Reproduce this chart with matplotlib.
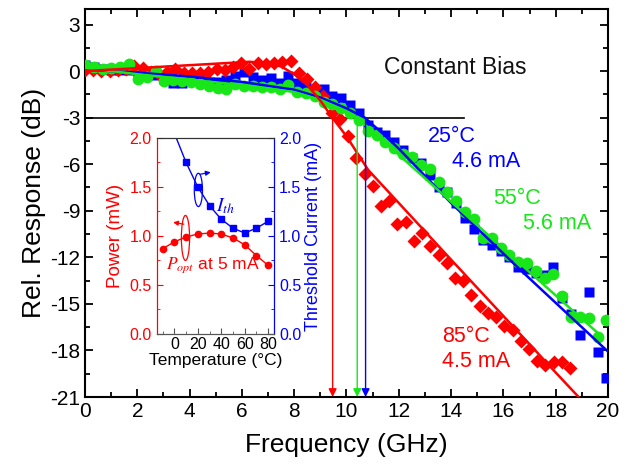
import matplotlib
matplotlib.use('Agg')
import matplotlib.pyplot as plt
from matplotlib.patches import Ellipse
from matplotlib.ticker import MultipleLocator

plt.rcParams['font.family'] = ['Liberation Sans', 'DejaVu Sans']
plt.rcParams['mathtext.fontset'] = 'stix'
plt.rcParams['axes.unicode_minus'] = False

RED = '#ff0000'
BLUE = '#0000ff'
GREEN = '#19e619'

# ---- main chart data ----
freq_bg = [0.00, 0.34, 0.68, 1.01, 1.35, 1.69, 2.03, 2.37, 2.70, 3.04,
           3.38, 3.72, 4.06, 4.39, 4.73, 5.07, 5.41, 5.75, 6.08, 6.42,
           6.76, 7.10, 7.44, 7.77, 8.11, 8.45, 8.79, 9.13, 9.46, 9.80,
           10.14, 10.48, 10.82, 11.15, 11.49, 11.83, 12.17, 12.51, 12.85, 13.18,
           13.52, 13.86, 14.20, 14.53, 14.87, 15.21, 15.55, 15.89, 16.22, 16.56,
           16.90, 17.24, 17.58, 17.91, 18.25, 18.59, 18.93, 19.27, 19.60, 19.94]

resp_25C = [0.40, 0.25, 0.12, 0.10, 0.10, 0.05, -0.25, -0.25, -0.25, -0.50,
            -0.78, -0.75, -0.50, -0.60, -0.68, -0.68, -0.58, -0.30, -0.05, -0.38,
            -0.58, -0.47, -0.77, -0.30, -0.75, -1.00, -1.20, -1.18, -1.60, -1.75,
            -2.20, -2.70, -3.50, -3.90, -4.12, -4.55, -5.10, -5.60, -5.94, -6.70,
            -7.45, -7.80, -8.52, -9.45, -10.20, -10.90, -11.20, -11.60, -12.00, -12.60,
            -12.75, -13.03, -13.14, -12.64, -14.64, -15.67, -17.00, -14.22, -18.10, -19.80]

resp_55C = [0.39, 0.24, 0.11, 0.18, 0.24, 0.45, -0.53, -0.36, 0.03, -0.64,
            -0.57, -0.62, -0.68, -0.85, -0.94, -1.11, -1.16, -0.86, -0.96, -0.96,
            -1.00, -1.00, -1.18, -0.90, -1.33, -1.40, -1.62, -2.00, -2.15, -2.38,
            -2.70, -3.15, -3.86, -4.15, -4.55, -4.95, -5.35, -5.55, -6.08, -6.30,
            -7.12, -7.80, -8.35, -9.06, -9.55, -10.78, -10.78, -11.42, -11.85, -12.28,
            -12.39, -12.86, -13.35, -13.10, -14.47, -15.87, -15.87, -15.93, -17.15, -16.04]

freq_red = [0.00, 0.31, 0.63, 0.94, 1.26, 1.57, 1.89, 2.20, 2.52, 2.83,
            3.14, 3.46, 3.77, 4.09, 4.40, 4.72, 5.03, 5.35, 5.66, 5.97,
            6.29, 6.60, 6.92, 7.23, 7.55, 7.86, 8.17, 8.49, 8.80, 9.12,
            9.43, 9.75, 10.06, 10.38, 10.69, 11.00, 11.32, 11.63, 11.95, 12.26,
            12.58, 12.89, 13.21, 13.52, 13.83, 14.15, 14.46, 14.78, 15.09, 15.41,
            15.72, 16.04, 16.35, 16.66, 16.98, 17.29, 17.61, 17.92, 18.24, 18.55]

resp_85C = [0.05, 0.05, 0.02, 0.02, 0.08, 0.15, 0.35, 0.17, -0.04, -0.19,
            -0.04, 0.11, -0.10, -0.15, -0.10, -0.04, 0.11, 0.06, 0.28, 0.54,
            0.13, 0.50, 0.45, 0.50, 0.60, 0.67, -0.10, -0.51, -1.00, -1.58,
            -2.72, -3.11, -4.19, -5.60, -6.63, -7.40, -8.69, -8.35, -9.85, -9.70,
            -10.93, -10.45, -11.27, -11.85, -12.35, -13.35, -13.50, -14.43, -15.14, -15.60,
            -15.83, -16.43, -16.68, -17.37, -17.93, -18.66, -18.94, -18.72, -18.76, -19.15]

# fitted curves
fit_25C_f = [0.0, 2.0, 4.0, 6.0, 8.0, 9.0, 10.0, 10.7, 11.5, 12.0, 14.0, 16.63, 20.05]
fit_25C_r = [0.10, -0.10, -0.35, -0.70, -1.20, -1.70, -2.40, -3.00, -4.20, -5.00, -8.50, -12.78, -18.15]
fit_55C_f = [0.0, 2.0, 4.0, 6.0, 8.0, 9.0, 9.8, 10.4, 11.79, 16.63, 19.76]
fit_55C_r = [0.20, -0.20, -0.55, -0.90, -1.35, -1.85, -2.45, -3.00, -5.08, -12.39, -17.10]
fit_85C_f = [0.0, 6.3, 7.0, 7.5, 8.0, 8.5, 9.0, 9.46, 10.0, 10.83, 12.0, 14.0, 16.0, 18.0, 19.1]
fit_85C_r = [0.0, 0.60, 0.50, 0.30, -0.20, -0.90, -1.90, -3.00, -4.20, -6.37, -8.50, -12.15, -15.78, -19.42, -21.40]

f3db = [9.47, 10.41, 10.73]
f3db_colors = [RED, GREEN, BLUE]

# ---- inset data ----
temp_p = [-10, 0, 10, 20, 30, 40, 50, 60, 70, 80]
p_opt = [0.87, 0.94, 0.99, 1.02, 1.03, 1.02, 0.98, 0.91, 0.80, 0.70]
temp_i = [10, 20, 30, 40, 50, 60, 70, 80]
i_th = [1.75, 1.50, 1.31, 1.17, 1.08, 1.03, 1.08, 1.15]
ith_line_t = [0] + temp_i
ith_line = [2.05] + i_th

fig = plt.figure(figsize=(6.32, 4.66), dpi=100)
ax = fig.add_axes([0.1345, 0.148, 0.8275, 0.8327])

ax.plot(freq_bg, resp_25C, 's', color=BLUE, ms=6.5, mec='none', zorder=3)
ax.plot(freq_red, resp_85C, 'D', color=RED, ms=7, mec='none', zorder=4)
ax.plot(freq_bg, resp_55C, 'o', color=GREEN, ms=8.5, mec='none', zorder=5)
ax.plot(fit_25C_f, fit_25C_r, '-', color=BLUE, lw=1.8, zorder=6)
ax.plot(fit_55C_f, fit_55C_r, '-', color=GREEN, lw=1.8, zorder=6)
ax.plot(fit_85C_f, fit_85C_r, '-', color=RED, lw=1.8, zorder=6)

ax.plot([0, 14.5], [-3, -3], color='black', lw=1.2, zorder=2)
for fx, c in zip(f3db, f3db_colors):
    ax.annotate('', xy=(fx, -21), xytext=(fx, -3),
                arrowprops=dict(arrowstyle='-|>', color=c, lw=1.0,
                                mutation_scale=12, shrinkA=0, shrinkB=0),
                zorder=7)

ax.set_xlim(0, 20)
ax.set_ylim(-21, 4)
ax.xaxis.set_major_locator(MultipleLocator(2))
ax.xaxis.set_minor_locator(MultipleLocator(1))
ax.yaxis.set_major_locator(MultipleLocator(3))
ax.yaxis.set_minor_locator(MultipleLocator(1.5))
ax.tick_params(which='both', direction='in', top=True, right=True, width=1.3)
ax.tick_params(which='major', length=6, labelsize=15)
ax.tick_params(which='minor', length=3.5)
for s in ax.spines.values():
    s.set_linewidth(1.5)
ax.set_xlabel('Frequency (GHz)', fontsize=19, labelpad=9)
ax.set_ylabel('Rel. Response (dB)', fontsize=19, labelpad=3)

ax.text(14.15, 0.26, 'Constant Bias', fontsize=16.5, ha='center', va='center', color='#111111')
ax.text(13.1, -4.55, '25°C', fontsize=15.5, color=BLUE)
ax.text(14.05, -6.15, '4.6 mA', fontsize=15.5, color=BLUE)
ax.text(15.6, -8.55, '55°C', fontsize=15.5, color=GREEN)
ax.text(16.75, -10.2, '5.6 mA', fontsize=15.5, color=GREEN)
ax.text(13.65, -17.45, '85°C', fontsize=15.5, color=RED)
ax.text(13.65, -19.05, '4.5 mA', fontsize=15.5, color=RED)

# ---- inset ----
ins = fig.add_axes([0.248, 0.2833, 0.1856, 0.4206])
ins.plot(temp_p, p_opt, '-o', color=RED, ms=4.5, lw=1.0)
ins.set_xlim(-15, 85)
ins.set_ylim(0, 2)
ins.xaxis.set_major_locator(MultipleLocator(20))
ins.xaxis.set_minor_locator(MultipleLocator(10))
ins.yaxis.set_major_locator(MultipleLocator(0.5))
ins.yaxis.set_minor_locator(MultipleLocator(0.25))
ins.tick_params(which='both', direction='in', labelsize=11.5)
ins.tick_params(axis='y', which='both', colors=RED)
ins.tick_params(which='major', length=4)
ins.tick_params(which='minor', length=2.5)
ins.set_xticks([0, 20, 40, 60, 80])
ins.tick_params(axis='x', pad=2, colors='black')
ins.tick_params(axis='x', which='both', color='#555555')
ins.set_xlabel('Temperature (°C)', fontsize=12.5, labelpad=1)
ins.set_ylabel('Power (mW)', fontsize=13.5, color=RED, labelpad=4)
ins.spines['left'].set_color(RED)
ins.spines['bottom'].set_color('#555555')
ins.spines['top'].set_color('#333333')

ins2 = ins.twinx()
ins2.plot(ith_line_t, ith_line, '-', color=BLUE, lw=1.0)
ins2.plot(temp_i, i_th, 's', color=BLUE, ms=4.5)
ins2.set_ylim(0, 2)
ins2.yaxis.set_major_locator(MultipleLocator(0.5))
ins2.yaxis.set_minor_locator(MultipleLocator(0.25))
ins2.tick_params(which='both', direction='in', colors=BLUE, labelsize=11.5)
ins2.tick_params(which='major', length=4)
ins2.tick_params(which='minor', length=2.5)
ins2.set_ylabel('Threshold Current (mA)', fontsize=13, color=BLUE, labelpad=3)
ins2.spines['right'].set_color(BLUE)
ins2.spines['left'].set_color(RED)
ins2.spines['bottom'].set_color('#555555')
ins2.spines['top'].set_color('#333333')

ins2.add_patch(Ellipse((20.5, 1.47), 7, 0.34, fill=False, ec=BLUE, lw=0.9))
ins2.annotate('', xy=(31, 1.65), xytext=(22, 1.63),
              arrowprops=dict(arrowstyle='-|>', color=BLUE, lw=0.9, mutation_scale=7,
                              shrinkA=0, shrinkB=0))
ins2.add_patch(Ellipse((9.5, 0.98), 7, 0.46, fill=False, ec=RED, lw=0.9))
ins2.annotate('', xy=(-1, 1.14), xytext=(8, 1.12),
              arrowprops=dict(arrowstyle='-|>', color=RED, lw=0.9, mutation_scale=7,
                              shrinkA=0, shrinkB=0))
ins2.text(44, 1.3, r'$I_{th}$', fontsize=14, color=BLUE, ha='center', va='center')
ins2.text(-7, 0.70, r'$P_{opt}$' + ' at 5 mA', fontsize=12.5, color=RED, ha='left', va='center')

fig.savefig('out.png', dpi=100)
